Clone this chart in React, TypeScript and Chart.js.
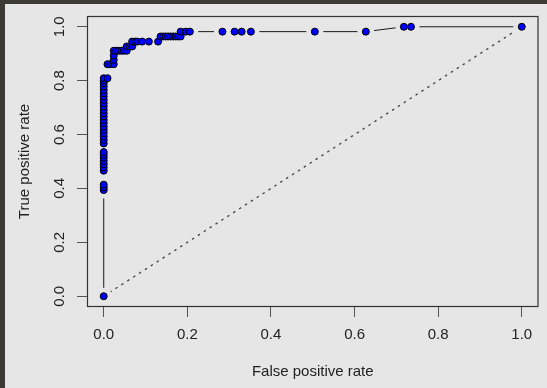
import React, { useEffect, useRef } from 'react';
import { Chart, registerables } from 'chart.js';
Chart.register(...registerables);

// ROC curve points (false positive rate, true positive rate), in cutoff order
const fpr = [
  0,
  0, 0, 0,
  0, 0, 0, 0, 0, 0, 0,
  0, 0, 0, 0, 0, 0, 0, 0, 0, 0, 0, 0, 0, 0, 0, 0, 0, 0, 0, 0, 0,
  0.009,
  0.009, 0.016, 0.024,
  0.024, 0.024, 0.024,
  0.030, 0.036, 0.042, 0.048, 0.055,
  0.055, 0.062, 0.068,
  0.068, 0.075, 0.080, 0.092, 0.108, 0.130,
  0.136, 0.142, 0.148, 0.154, 0.160, 0.166, 0.172, 0.178, 0.184,
  0.184, 0.196, 0.206, 0.284, 0.313, 0.330, 0.352, 0.505, 0.627,
  0.718, 0.735, 1.0,
];
const tpr = [
  0,
  0.394, 0.404, 0.414,
  0.466, 0.478, 0.490, 0.502, 0.514, 0.525, 0.535,
  0.567, 0.580, 0.592, 0.605, 0.617, 0.629, 0.642, 0.654, 0.667, 0.679, 0.691, 0.704, 0.716, 0.728, 0.741, 0.753, 0.765, 0.778, 0.790, 0.800, 0.809,
  0.809,
  0.861, 0.861, 0.861,
  0.877, 0.893, 0.911,
  0.911, 0.911, 0.911, 0.911, 0.911,
  0.927, 0.927, 0.927,
  0.945, 0.945, 0.945, 0.945, 0.945, 0.945,
  0.964, 0.964, 0.964, 0.964, 0.964, 0.964, 0.964, 0.964, 0.964,
  0.982, 0.982, 0.982, 0.982, 0.982, 0.982, 0.982, 0.982, 0.982,
  1.0, 1.0, 1.0,
];
const diagonalX = [0, 1];
const diagonalY = [0, 1];
const xTicks = [0, 0.2, 0.4, 0.6, 0.8, 1.0];
const yTicks = [0, 0.2, 0.4, 0.6, 0.8, 1.0];
const xTickLabels = ['0.0', '0.2', '0.4', '0.6', '0.8', '1.0'];
const yTickLabels = ['0.0', '0.2', '0.4', '0.6', '0.8', '1.0'];
const xTitle = 'False positive rate';
const yTitle = 'True positive rate';

const BG = '#e6e6e6';
const FONT = "'Liberation Sans', Arial, sans-serif";
const TEXT = '#222222';

export default function App() {
  const ref = useRef<HTMLCanvasElement>(null);
  useEffect(() => {
    document.body.style.margin = '0';
    const canvas = ref.current;
    if (!canvas) return;
    const pts = fpr.map((x, i) => ({ x, y: tpr[i] }));
    const diag = diagonalX.map((x, i) => ({ x, y: diagonalY[i] }));

    const framePlugin = {
      id: 'frame',
      beforeDraw(chart: any) {
        const ctx = chart.ctx;
        ctx.save();
        ctx.fillStyle = BG;
        ctx.fillRect(0, 0, chart.width, chart.height);
        ctx.fillStyle = '#3d3a36';
        ctx.fillRect(0, 0, chart.width, 4);
        ctx.fillRect(0, 0, 5, chart.height);
        ctx.restore();
      },
      afterDraw(chart: any) {
        const ctx = chart.ctx;
        const { left, top, right, bottom } = chart.chartArea;
        ctx.save();
        ctx.strokeStyle = '#333333';
        ctx.lineWidth = 1.2;
        ctx.strokeRect(left + 0.5, top + 0.5, right - left - 1, bottom - top - 1);
        ctx.restore();
      },
    };

    const chart = new Chart(canvas, {
      type: 'scatter',
      data: {
        datasets: [
          {
            label: 'points',
            data: pts,
            showLine: false,
            pointRadius: 3.5,
            pointBorderWidth: 1,
            pointBackgroundColor: '#0000ff',
            pointBorderColor: '#000000',
            pointHoverRadius: 3.5,
          },
          {
            label: 'gaps',
            data: pts,
            showLine: false,
            pointRadius: 8.5,
            pointBorderWidth: 0,
            pointBackgroundColor: BG,
            pointBorderColor: BG,
            pointHoverRadius: 8.5,
          },
          {
            label: 'line',
            data: pts,
            showLine: true,
            pointRadius: 0,
            borderColor: '#1a1a1a',
            borderWidth: 1,
            fill: false,
          },
          {
            label: 'diagonal',
            data: diag,
            showLine: true,
            pointRadius: 0,
            borderColor: '#4a4a4a',
            borderWidth: 1.4,
            borderDash: [2.5, 4.5],
            fill: false,
          },
        ],
      },
      options: {
        animation: false,
        responsive: false,
        devicePixelRatio: 1,
        layout: { padding: { left: 0, top: 16, right: 6, bottom: 0 } },
        plugins: { legend: { display: false }, tooltip: { enabled: false } },
        events: [],
        scales: {
          x: {
            type: 'linear',
            min: -0.04,
            max: 1.04,
            afterBuildTicks: (s: any) => {
              s.ticks = xTicks.map((v) => ({ value: v }));
            },
            afterFit: (s: any) => {
              s.height = 81;
            },
            grid: {
              drawOnChartArea: false,
              drawTicks: true,
              tickLength: 10,
              color: '#555555',
              lineWidth: 1,
            },
            border: { display: false },
            ticks: {
              autoSkip: false,
              maxRotation: 0,
              minRotation: 0,
              padding: 9,
              color: TEXT,
              font: { family: FONT, size: 15 },
              callback: (v: any) => {
                const i = xTicks.findIndex((t) => Math.abs(t - v) < 1e-9);
                return i >= 0 ? xTickLabels[i] : '';
              },
            },
            title: {
              display: true,
              text: xTitle,
              color: TEXT,
              font: { family: FONT, size: 15 },
              padding: { top: 0, bottom: 7 },
            },
          },
          y: {
            type: 'linear',
            min: -0.04,
            max: 1.04,
            afterBuildTicks: (s: any) => {
              s.ticks = yTicks.map((v) => ({ value: v }));
            },
            afterFit: (s: any) => {
              s.width = 87;
            },
            grid: {
              drawOnChartArea: false,
              drawTicks: true,
              tickLength: 10,
              color: '#555555',
              lineWidth: 1,
            },
            border: { display: false },
            ticks: {
              autoSkip: false,
              minRotation: 90,
              maxRotation: 90,
              crossAlign: 'center',
              padding: 6.5,
              color: TEXT,
              font: { family: FONT, size: 15 },
              callback: (v: any) => {
                const i = yTicks.findIndex((t) => Math.abs(t - v) < 1e-9);
                return i >= 0 ? yTickLabels[i] : '';
              },
            },
            title: {
              display: true,
              text: yTitle,
              color: TEXT,
              font: { family: FONT, size: 15 },
              padding: { top: 16, bottom: 0 },
            },
          },
        },
      },
      plugins: [framePlugin],
    } as any);
    return () => chart.destroy();
  }, []);
  return <canvas ref={ref} width={547} height={388} style={{ display: 'block' }} />;
}
